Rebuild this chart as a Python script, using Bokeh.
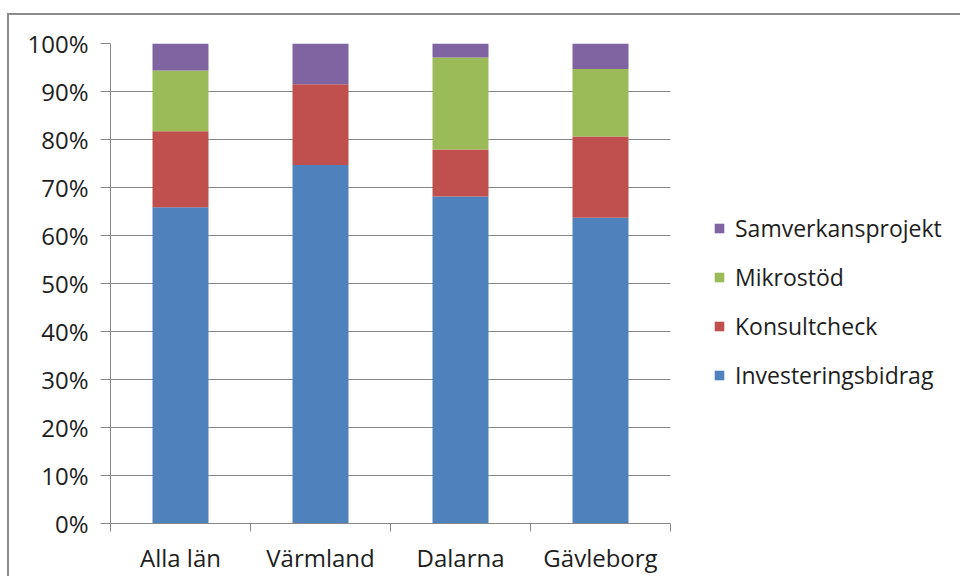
from bokeh.plotting import figure
from bokeh.models import FixedTicker, Legend, LegendItem, ColumnDataSource, Range1d
from bokeh.embed import file_html
from bokeh.resources import INLINE
import numpy as np

categories = ["Alla län", "Värmland", "Dalarna", "Gävleborg"]
series = ["Investeringsbidrag", "Konsultcheck", "Mikrostöd", "Samverkansprojekt"]
investeringsbidrag = [0.659, 0.747, 0.681, 0.637]
konsultcheck = [0.158, 0.168, 0.098, 0.169]
mikrostod = [0.127, 0.000, 0.192, 0.141]
samverkansprojekt = [0.056, 0.085, 0.029, 0.053]
colors = ["#4F81BD", "#C0504D", "#9BBB59", "#8064A2"]
y_ticks = [i / 10 for i in range(11)]
y_tick_labels = [f"{i * 10}%" for i in range(11)]

FONT = "Open Sans"
TXT = "#1e1e1e"
GRID = "#878787"

x = list(np.arange(len(categories)) + 0.5)
src = ColumnDataSource(dict(x=x, Investeringsbidrag=investeringsbidrag, Konsultcheck=konsultcheck,
                            Mikrostöd=mikrostod, Samverkansprojekt=samverkansprojekt))

p = figure(frame_width=560, frame_height=480, output_backend="svg", toolbar_location=None,
           x_range=Range1d(0, len(categories)), y_range=Range1d(0, 1),
           min_border_left=101, min_border_top=28, min_border_bottom=52, min_border_right=276)
p.margin = (13, 0, 0, 7)
p.styles = {"border-left": "2px solid #8c8c8c", "border-top": "2px solid #8c8c8c"}
p.outline_line_color = None
p.background_fill_color = "white"
p.border_fill_color = "white"

rs = p.vbar_stack(series, x="x", width=0.4, color=colors, source=src, line_color=None)

# Axes
p.yaxis.ticker = FixedTicker(ticks=y_ticks)
p.yaxis.major_label_overrides = {t: l for t, l in zip(y_ticks, y_tick_labels)}
p.yaxis.major_tick_out = 10
p.yaxis.major_tick_in = 0
p.yaxis.minor_tick_line_color = None
p.yaxis.major_label_standoff = 12

p.xaxis.ticker = FixedTicker(ticks=x, minor_ticks=list(range(len(categories) + 1)))
p.xaxis.major_label_overrides = {xx: c for xx, c in zip(x, categories)}
p.xaxis.minor_tick_out = 8
p.xaxis.minor_tick_in = 0
p.xaxis.minor_tick_line_color = GRID
p.xaxis.major_label_standoff = 9

for ax in (p.xaxis, p.yaxis):
    ax.axis_line_color = GRID
    ax.major_label_text_font = FONT
    ax.major_label_text_font_size = "24px"
    ax.major_label_text_color = TXT
p.yaxis.major_tick_line_color = GRID
p.xaxis.major_tick_line_color = None

p.xgrid.grid_line_color = None
p.ygrid.ticker = FixedTicker(ticks=y_ticks)
p.ygrid.grid_line_color = GRID

items = [LegendItem(label=s, renderers=[r]) for s, r in zip(series, rs)][::-1]
legend = Legend(items=items, location=(43, 132), orientation="vertical",
                label_text_font=FONT, label_text_font_size="23px", label_text_color=TXT,
                glyph_width=12, glyph_height=12, label_standoff=10, spacing=17, label_height=24,
                padding=0, margin=0, border_line_color=None, background_fill_alpha=0)
p.add_layout(legend, "right")

open("out.html", "w").write(file_html(p, INLINE))
